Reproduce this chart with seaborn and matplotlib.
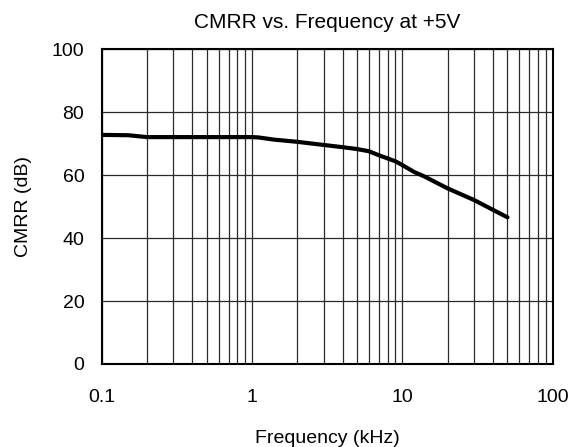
import matplotlib
matplotlib.use("Agg")
import matplotlib.pyplot as plt
from matplotlib.ticker import LogLocator, FixedLocator, FixedFormatter, NullFormatter
import seaborn as sns
import pandas as pd

# CMRR measurement at +5V supply
freq_khz = [0.1, 0.15, 0.2, 0.5, 1.0, 1.1, 1.4, 2, 3, 4, 5, 6, 7, 8, 9, 10, 12, 14, 20, 30, 40, 50]
cmrr_db = [72.8, 72.7, 72.1, 72.1, 72.1, 72.0, 71.3, 70.6, 69.6, 68.9, 68.3, 67.6, 66.3, 65.3,
           64.4, 63.2, 61.0, 59.6, 55.8, 52.1, 49.0, 46.6]

x_ticks = [0.1, 1, 10, 100]
x_tick_labels = ["0.1", "1", "10", "100"]
y_ticks = [0, 20, 40, 60, 80, 100]

sns.set_theme(style="white")
plt.rcParams["font.family"] = ["Liberation Sans", "DejaVu Sans"]

df = pd.DataFrame({"Frequency (kHz)": freq_khz, "CMRR (dB)": cmrr_db})

fig = plt.figure(figsize=(5.76, 4.47), dpi=100)
ax = fig.add_axes([101.7 / 576, 1 - 364 / 447, 451 / 576, 314.7 / 447])

sns.lineplot(data=df, x="Frequency (kHz)", y="CMRR (dB)", ax=ax,
             color="black", linewidth=3.0, zorder=3)

ax.set_xscale("log")
ax.set_xlim(0.1, 100)
ax.set_ylim(0, 100)

ax.xaxis.set_major_locator(FixedLocator(x_ticks))
ax.xaxis.set_major_formatter(FixedFormatter(x_tick_labels))
ax.xaxis.set_minor_locator(LogLocator(base=10, subs=range(2, 10), numticks=20))
ax.xaxis.set_minor_formatter(NullFormatter())
ax.set_yticks(y_ticks)

ax.grid(which="both", axis="x", color="#2a2a2a", linewidth=0.9)
ax.grid(which="major", axis="y", color="#2a2a2a", linewidth=0.9)

for s in ax.spines.values():
    s.set_visible(True)
    s.set_color("black")
    s.set_linewidth(1.5)
    s.set_zorder(4)

ax.tick_params(axis="both", which="both", length=0, labelsize=14, colors="black")
ax.tick_params(axis="x", pad=18)
ax.tick_params(axis="y", pad=12.5)

ax.set_title("CMRR vs. Frequency at +5V", fontsize=15, color="black", pad=15)
ax.set_xlabel("Frequency (kHz)", fontsize=14, color="black", labelpad=17)
ax.set_ylabel("CMRR (dB)", fontsize=14, color="black", labelpad=14)

fig.savefig("out.png", dpi=100, facecolor="white")
